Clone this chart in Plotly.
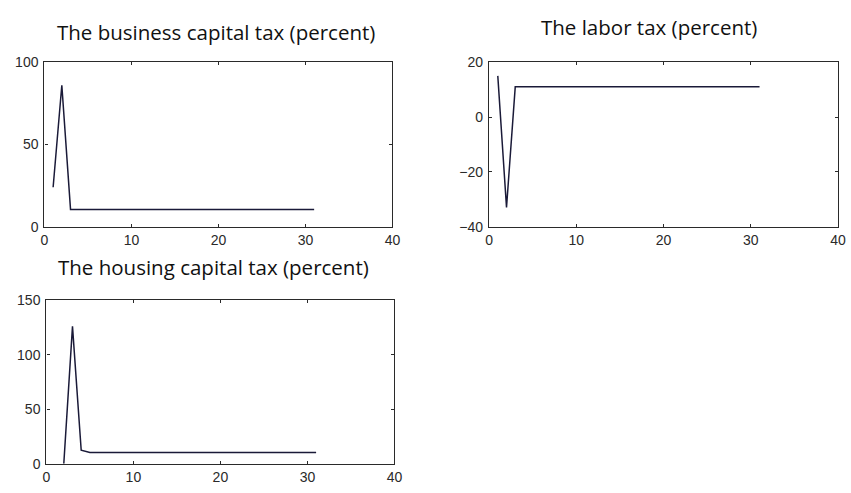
import plotly.graph_objects as go

# Tax paths over 31 periods (percent)
periods = list(range(1, 32))

business_capital_tax = [24, 86] + [10.5] * 29
labor_tax = [15, -33] + [11] * 29

housing_periods = list(range(2, 32))
housing_capital_tax = [0, 126, 12.4] + [10.4] * 27

titles = [
    "The business capital tax (percent)",
    "The labor tax (percent)",
    "The housing capital tax (percent)",
]

W, H = 851, 493
LINE = "#1a1a38"
AXIS = "#2a2a2a"
TICKFONT = dict(family="Liberation Sans, Arial, sans-serif", size=14, color="#2a2a2a")


def px_x(a, b):
    return [a / W, b / W]


def px_y(top, bottom):
    return [1 - bottom / H, 1 - top / H]


fig = go.Figure()

fig.add_trace(go.Scatter(x=periods, y=business_capital_tax, mode="lines",
                         line=dict(color=LINE, width=1.5), xaxis="x", yaxis="y",
                         showlegend=False, cliponaxis=True))
fig.add_trace(go.Scatter(x=periods, y=labor_tax, mode="lines",
                         line=dict(color=LINE, width=1.5), xaxis="x2", yaxis="y2",
                         showlegend=False, cliponaxis=True))
fig.add_trace(go.Scatter(x=housing_periods, y=housing_capital_tax, mode="lines",
                         line=dict(color=LINE, width=1.5), xaxis="x3", yaxis="y3",
                         showlegend=False, cliponaxis=True))

axis_common = dict(
    showline=True, linecolor=AXIS, linewidth=1.3, mirror="allticks",
    ticks="inside", ticklen=3, tickcolor=AXIS, tickwidth=1,
    showgrid=False, zeroline=False, tickfont=TICKFONT, fixedrange=True,
)

x_common = dict(axis_common, range=[0, 40], tickvals=[0, 10, 20, 30, 40])

fig.update_layout(
    width=W, height=H,
    margin=dict(l=0, r=0, t=0, b=0),
    paper_bgcolor="white", plot_bgcolor="white",
    xaxis=dict(x_common, domain=px_x(41, 394), anchor="y"),
    yaxis=dict(axis_common, domain=px_y(56, 226), anchor="x",
               range=[0, 100], tickvals=[0, 50, 100], ticklabelstandoff=2),
    xaxis2=dict(x_common, domain=px_x(492, 846), anchor="y2"),
    yaxis2=dict(axis_common, domain=px_y(56, 226), anchor="x2",
                range=[-40, 20], tickvals=[-40, -20, 0, 20], ticklabelstandoff=2),
    xaxis3=dict(x_common, domain=px_x(43, 396), anchor="y3"),
    yaxis3=dict(axis_common, domain=px_y(302, 471), anchor="x3",
                range=[0, 150], tickvals=[0, 50, 100, 150], ticklabelstandoff=2),
)

title_font = dict(family="Open Sans, Noto Sans, sans-serif", size=20.5, color="#111111")
title_pos = [(215, 25), (654, 20), (212, 268)]
for text, (cx, cy) in zip(titles, title_pos):
    fig.add_annotation(text=text, x=cx / W, y=1 - cy / H, xref="paper", yref="paper",
                       showarrow=False, font=title_font, xanchor="center", yanchor="middle")

fig.write_html("out.html")
